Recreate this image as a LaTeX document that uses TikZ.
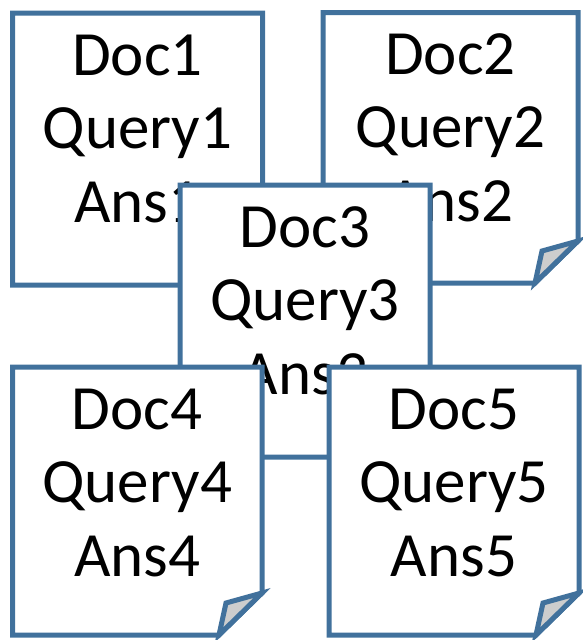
\documentclass[tikz,border=0pt]{standalone}
\usepackage{fontspec}
\setmainfont{Carlito}
\definecolor{edgeblue}{RGB}{65,113,156}
\definecolor{foldgray}{RGB}{205,205,205}
\tikzset{
  sheet/.style={draw=edgeblue, line width=5pt, miter limit=10, fill=white},
  fold/.style={draw=edgeblue, line width=5pt, miter limit=10, fill=foldgray},
  doclabel/.style={anchor=base, inner sep=0pt, font=\fontsize{63}{73}\selectfont}
}
% one folded-corner page: name, left, top, right, bottom, index
\newcommand\docsheet[6]{%
  \path[sheet] (#2,#3) -- (#4,#3) -- (#4,{#5-42}) -- ({#4-43},#5) -- (#2,#5) -- cycle;
  \path[fold] ({#4-43},#5) -- ({#4-36},{#5-32}) -- (#4,{#5-42}) -- cycle;
  \node[doclabel] (#1doc)   at ({(#2+#4)/2},{#3+62})  {Doc#6};
  \node[doclabel] (#1query) at ({(#2+#4)/2},{#3+135}) {Query#6};
  \node[doclabel] (#1ans)   at ({(#2+#4)/2},{#3+209}) {Ans#6};
}
\begin{document}
\begin{tikzpicture}[x=1pt,y=-1pt]
\useasboundingbox (0,0) rectangle (583,640);
\docsheet{one}{12.5}{13}{262.5}{285}{1}
\docsheet{two}{323}{12.5}{578}{283}{2}
\docsheet{three}{180}{185}{430}{457}{3}
\docsheet{four}{12.5}{367}{262}{635}{4}
\docsheet{five}{329}{367}{579}{635}{5}
\end{tikzpicture}
\end{document}
